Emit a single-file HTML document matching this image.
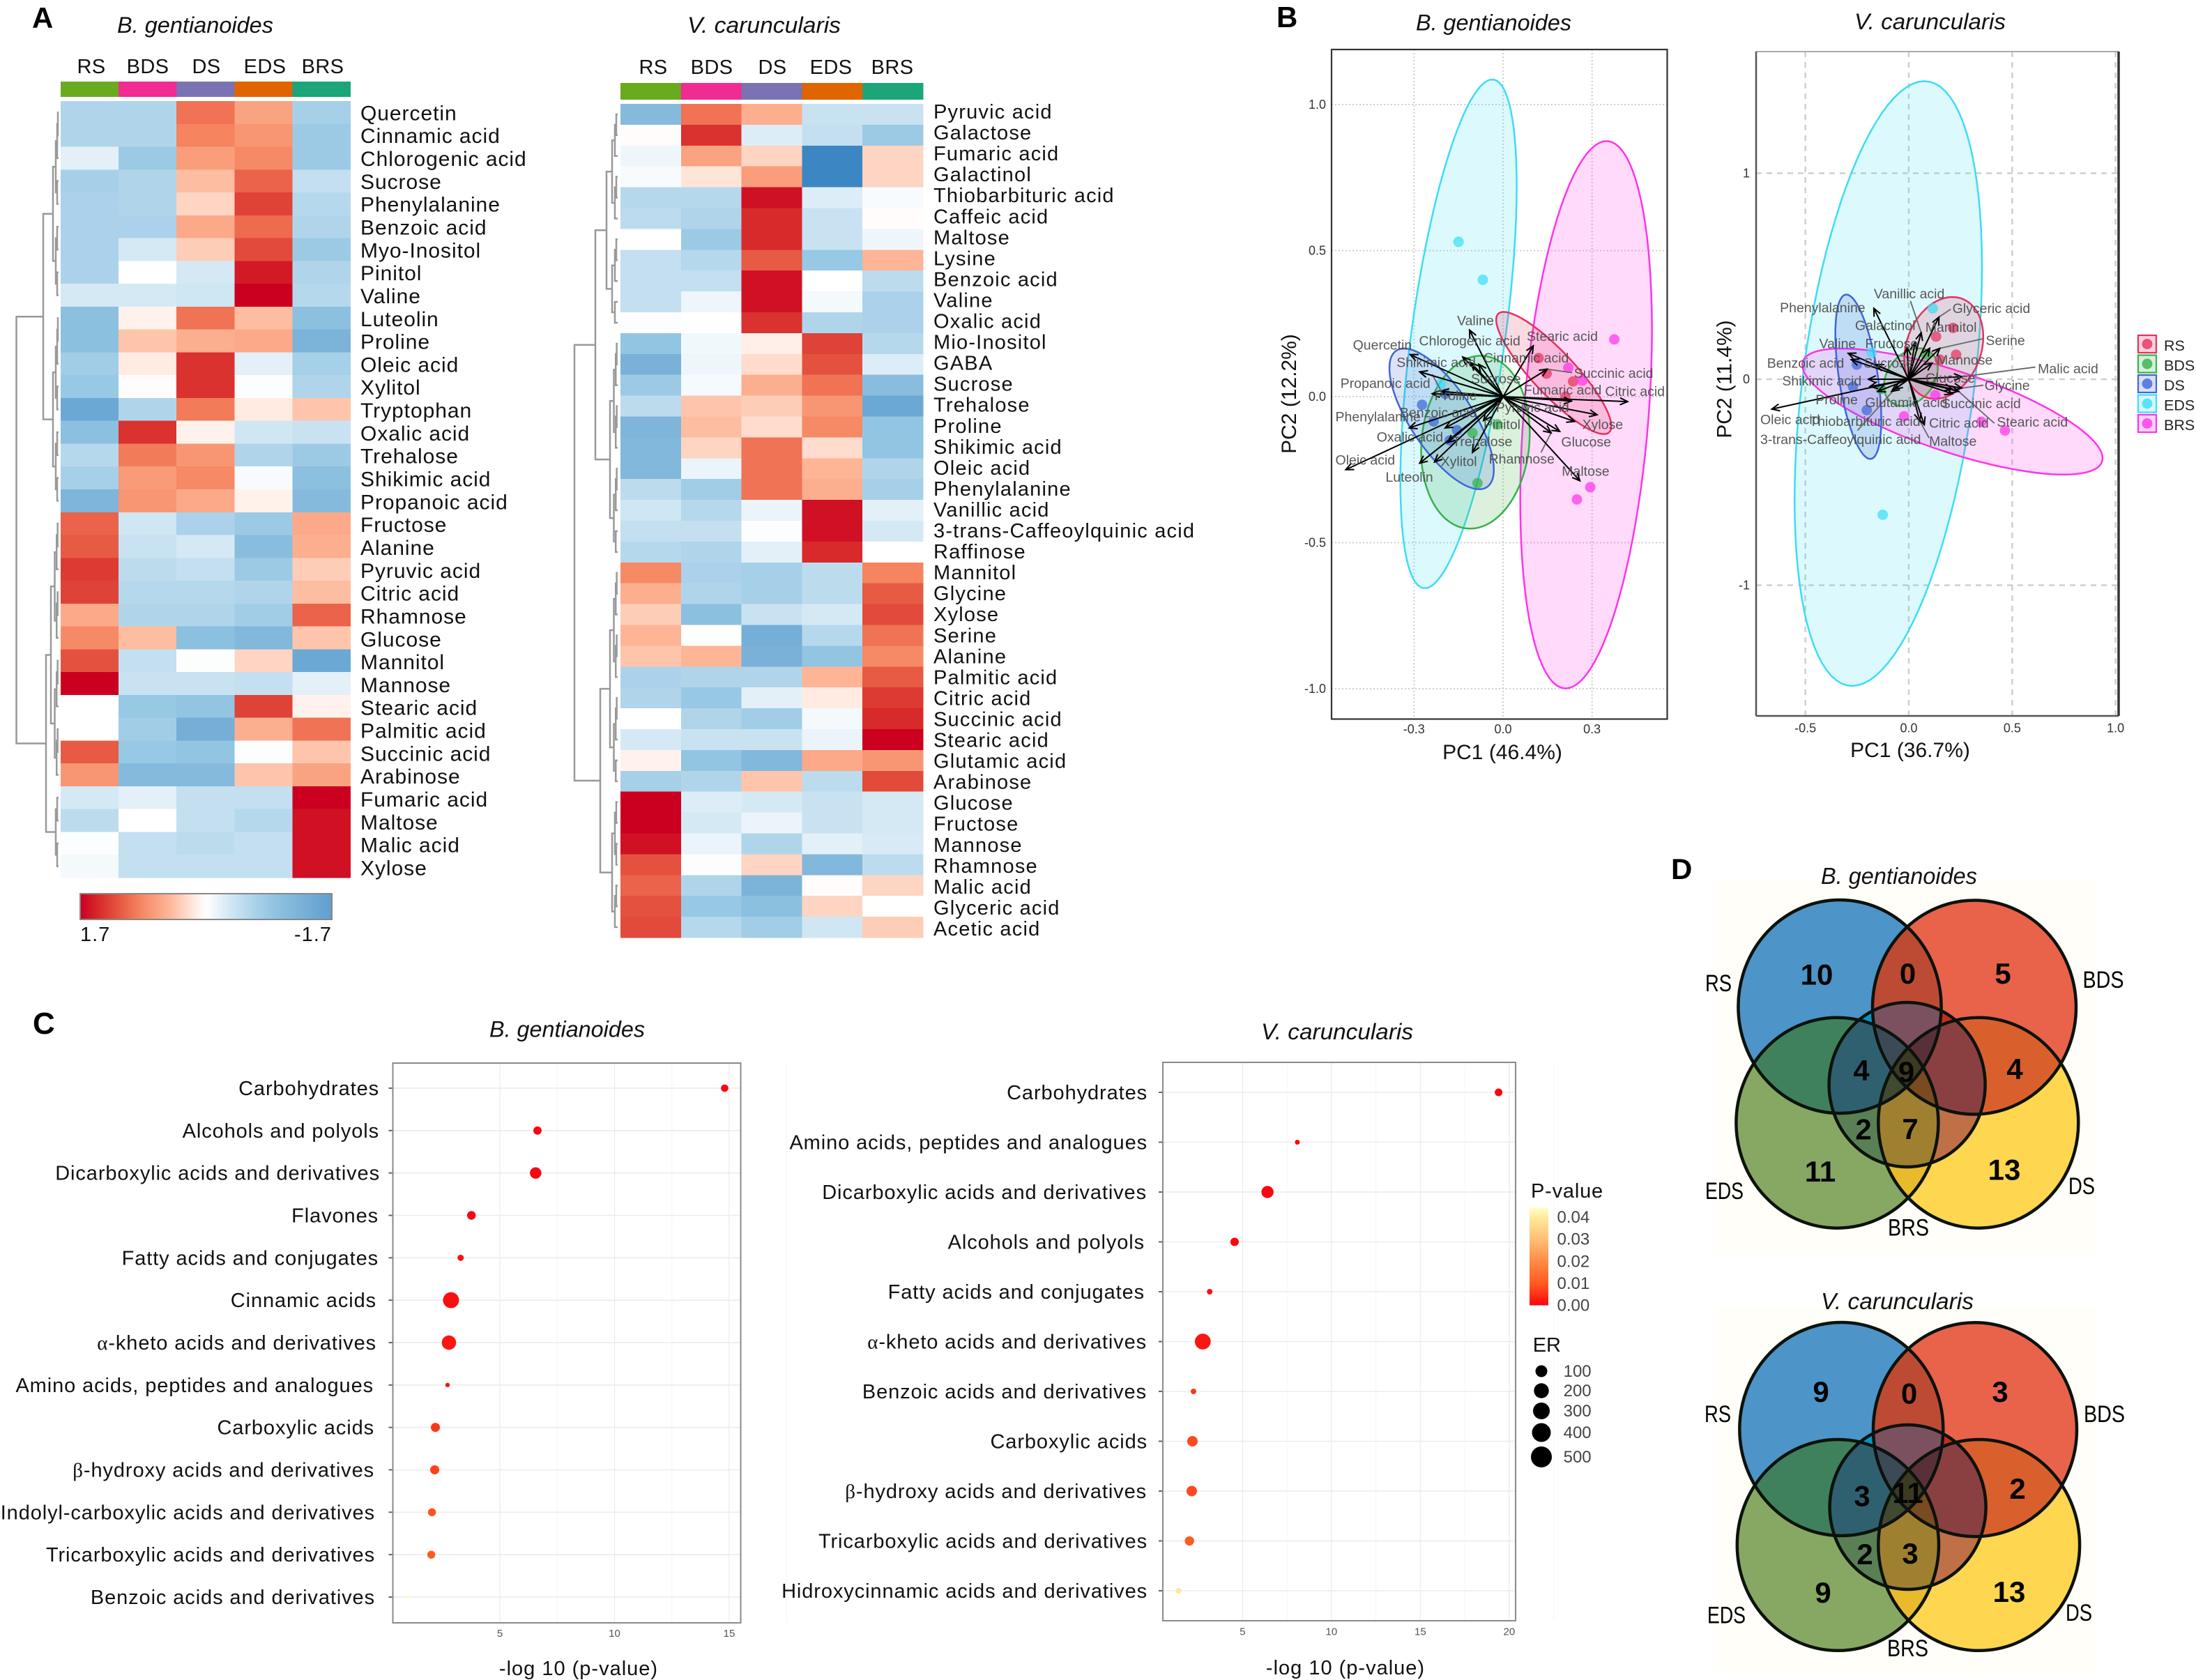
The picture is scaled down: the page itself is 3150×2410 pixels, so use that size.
<!DOCTYPE html>
<html lang="en">
<head>
<meta charset="utf-8">
<title>Metabolite heatmaps, PCA biplots, enrichment dot plots and Venn diagrams</title>
<style>
html,body{margin:0;padding:0;background:#fff;width:3150px;height:2410px;overflow:hidden}
svg{display:block;font-family:"Liberation Sans",sans-serif}
</style>
</head>
<body>
<svg id="figure" xmlns="http://www.w3.org/2000/svg" width="3150" height="2410" viewBox="0 0 3150 2410">
<defs>
<marker id="arrowHead" markerUnits="userSpaceOnUse" markerWidth="14" markerHeight="14" refX="12" refY="6" orient="auto"><path d="M1,1 L12,6 L1,11" fill="none" stroke="#000" stroke-width="2"/></marker>
<linearGradient id="heatLegendGrad" x1="0" x2="1" y1="0" y2="0"></linearGradient>
<linearGradient id="pLegendGrad" x1="0" x2="0" y1="1" y2="0"></linearGradient>
</defs>
<rect x="0" y="0" width="3150" height="2410" fill="#fff"/>
</svg>
<script>
/* ---------- PANEL A: heatmap data ---------- */
var heatColumns = ['RS','BDS','DS','EDS','BRS'];
var heatColumnColors = ['#6aaa1e','#f02b92','#7b72b4','#e06400','#1ca578'];
var heatLabelsA = ['Quercetin','Cinnamic acid','Chlorogenic acid','Sucrose','Phenylalanine','Benzoic acid','Myo-Inositol','Pinitol','Valine','Luteolin','Proline','Oleic acid','Xylitol','Tryptophan','Oxalic acid','Trehalose','Shikimic acid','Propanoic acid','Fructose','Alanine','Pyruvic acid','Citric acid','Rhamnose','Glucose','Mannitol','Mannose','Stearic acid','Palmitic acid','Succinic acid','Arabinose','Fumaric acid','Maltose','Malic acid','Xylose'];
var heatValuesA = [
[-.6,-.6,1.0,.65,-.7],[-.6,-.6,.9,.75,-.8],[-.2,-.8,.7,.85,-.8],[-.7,-.6,.45,1.1,-.45],[-.65,-.6,.3,1.3,-.55],[-.65,-.65,.6,1.05,-.6],[-.65,-.3,.35,1.25,-.8],[-.65,0,-.3,1.55,-.6],[-.3,-.3,-.35,1.7,-.55],
[-1.0,.1,1.0,.45,-1.0],[-1.0,.4,.55,.6,-1.25],[-.75,.15,1.4,-.2,-.7],[-.85,.02,1.4,-.03,-.6],[-1.5,-.6,.95,.15,.4],[-1.0,1.4,.1,-.35,-.4],[-.55,.95,.75,-.6,-.8],[-.7,.72,.85,-.05,-1.0],[-1.2,.75,.6,.1,-1.1],
[1.1,-.35,-.65,-.8,.6],[1.15,-.4,-.3,-1.05,.55],[1.35,-.5,-.45,-.8,.35],[1.3,-.55,-.55,-.6,.45],[.6,-.6,-.6,-.75,1.1],[.85,.45,-1.0,-1.15,.4],[1.2,-.45,-.02,.3,-1.5],[1.7,-.4,-.4,-.45,-.2],[0,-.85,-.9,1.3,.1],[0,-.75,-1.35,.55,1.0],[1.15,-.85,-.9,-.03,.4],[.75,-1.1,-1.1,.4,.65],
[-.3,-.2,-.45,-.45,1.7],[-.5,0,-.45,-.55,1.6],[-.03,-.45,-.5,-.45,1.6],[-.08,-.45,-.45,-.45,1.6]];
var heatLabelsV = ['Pyruvic acid','Galactose','Fumaric acid','Galactinol','Thiobarbituric acid','Caffeic acid','Maltose','Lysine','Benzoic acid','Valine','Oxalic acid','Mio-Inositol','GABA','Sucrose','Trehalose','Proline','Shikimic acid','Oleic acid','Phenylalanine','Vanillic acid','3-trans-Caffeoylquinic acid','Raffinose','Mannitol','Glycine','Xylose','Serine','Alanine','Palmitic acid','Citric acid','Succinic acid','Stearic acid','Glutamic acid','Arabinose','Glucose','Fructose','Mannose','Rhamnose','Malic acid','Glyceric acid','Acetic acid'];
var heatValuesV = [
[-1.1,1.0,.55,-.4,-.4],[.02,1.4,-.25,-.45,-.8],[-.12,.65,.3,-2.1,.3],[-.05,.2,.7,-2.1,.3],[-.55,-.55,1.6,-.25,-.06],[-.5,-.6,1.45,-.4,.02],[0,-.8,1.45,-.4,-.12],[-.45,-.55,1.15,-.85,.5],[-.45,-.45,1.6,0,-.5],[-.45,-.12,1.6,-.08,-.65],[-.03,0,1.4,-.6,-.65],
[-.9,-.1,.12,1.3,-.55],[-1.3,-.12,.25,1.2,-.25],[-.8,-.07,.55,1.0,-1.05],[-.5,.4,.35,.75,-1.5],[-1.2,.45,.25,.85,-.9],[-1.15,.3,1.0,.25,-.9],[-1.15,-.15,1.0,.5,-.6],[-.5,-.75,1.0,.55,-.7],[-.35,-.55,-.15,1.6,-.2],[-.45,-.45,-.03,1.6,-.3],[-.55,-.6,-.2,1.45,0],
[.85,-.65,-.7,-.5,.9],[.55,-.6,-.7,-.5,1.15],[.35,-1.0,-.4,-.3,1.25],[.5,0,-1.35,-.55,1.0],[.4,.5,-1.3,-.9,.85],[-.65,-.6,-.6,.5,1.15],[-.6,-.85,-.2,.15,1.35],[0,-.6,-.75,-.08,1.45],[-.3,-.4,-.4,-.15,1.7],[.1,-.9,-1.15,.6,.75],[-.7,-.6,.4,-.5,1.25],
[1.7,-.25,-.3,-.4,-.3],[1.7,-.3,-.15,-.4,-.3],[1.6,-.15,-.6,-.2,-.28],[1.2,-.03,.3,-1.15,-.5],[1.1,-.6,-1.25,.02,.3],[1.2,-.85,-1.0,.3,0],[1.25,-.55,-.75,-.35,.35]];
var heatLegendTicks = ['1.7','-1.7'];

/* ---------- PANEL B: PCA data (PC units) ---------- */
var pcaGroups = ['RS','BDS','DS','EDS','BRS'];
var pcaGroupColors = ['#e8305f','#35b34a','#3f66d8','#3ddcf5','#ff33ea'];
var pca1XTicks = [-0.3,0,0.3];
var pca1YTicks = [1,0.5,0,-0.5,-1];
var pca1EllipseOrder = ['BRS','EDS','BDS','DS','RS'];
var pca1EllipseCx = [.280,-.150,-.093,-.207,.171];
var pca1EllipseCy = [-.062,.215,-.156,-.076,.081];
var pca1EllipseAx = [.222,.196,.183,.176,.194];
var pca1EllipseBy = [.937,.871,.296,.241,.209];
var pca1EllipseRho = [.31,.58,.1,-.72,-.87];
var pca1PointGroup = ['EDS','EDS','EDS','DS','DS','DS','DS','DS','BDS','BDS','BDS','RS','RS','RS','RS','BRS','BRS','BRS','BRS','BRS'];
var pca1PointX = [-.15,-.068,-.21,-.273,-.234,-.195,-.155,-.18,-.103,-.019,-.086,.12,.147,.236,.21,.375,.22,.267,.294,.249];
var pca1PointY = [.53,.40,.044,-.028,-.085,.01,-.115,-.15,-.124,-.095,-.296,.132,.079,.052,0,.196,.099,.055,-.31,-.352];
var pca1Names = ['Valine','Quercetin','Chlorogenic acid','Cinnamic acid','Sucrose','Shikimic acid','Propanoic acid','Proline','Phenylalanine','Benzoic acid','Oxalic acid','Oleic acid','Luteolin','Xylitol','Trehalose','Pinitol','Stearic acid','Fumaric acid','Succinic acid','Citric acid','Xylose','Glucose','Rhamnose','Maltose','Pyruvic acid'];
var pca1LoadX = [-.113,-.313,-.136,-.108,-.082,-.281,-.239,-.208,-.316,-.195,-.187,-.53,-.281,-.231,-.103,-.066,.102,.231,.149,.42,.317,.191,.162,.259,.241];
var pca1LoadY = [.228,.144,.136,.116,.111,.085,.01,.018,-.107,-.107,-.157,-.25,-.228,-.224,-.191,-.082,.174,-.015,.094,-.017,-.062,-.119,-.124,-.288,-.085];
var pca1TextX = [-.155,-.506,-.283,-.066,-.108,-.359,-.548,-.231,-.565,-.348,-.426,-.565,-.396,-.21,-.171,-.066,.08,.07,.239,.344,.267,.196,-.048,.198,-.024];
var pca1TextY = [.245,.161,.176,.117,.045,.102,.03,-.012,-.085,-.07,-.154,-.233,-.291,-.238,-.169,-.111,.191,.007,.065,.002,-.111,-.171,-.229,-.271,-.052];
var pca1LeaderNames = ['Succinic acid','Rhamnose','Proline'];
var pca1LeaderX = [.233,.128,-.239];
var pca1LeaderY = [.082,-.191,.077];

var pca2XTicks = [-0.5,0,0.5,1];
var pca2YTicks = [1,0,-1];
var pca2EllipseOrder = ['EDS','BRS','BDS','DS','RS'];
var pca2EllipseCx = [-.099,.211,.01,-.244,.169];
var pca2EllipseCy = [-.021,-.157,.01,.012,.152];
var pca2EllipseAx = [.453,.726,.13,.111,.191];
var pca2EllipseBy = [1.468,.306,.14,.399,.247];
var pca2EllipseRho = [.385,-.74,.3,-.52,.22];
var pca2PointGroup = ['EDS','EDS','EDS','RS','RS','RS','RS','DS','DS','DS','BRS','BRS','BRS','BRS','BDS','BDS'];
var pca2PointX = [.116,-.126,-.18,.132,.214,.229,.15,-.251,-.203,-.27,.465,.351,-.023,.128,.083,-.135];
var pca2PointY = [.344,-.658,.13,.207,.249,.119,.095,.071,-.15,-.036,-.249,-.207,-.18,-.078,.119,-.048];
var pca2Names = ['Vanillic acid','Glyceric acid','Phenylalanine','Galactinol','Mannitol','Valine','Fructose','Serine','Benzoic acid','Sucrose','Mannose','Malic acid','Shikimic acid','Glucose','Glycine','Proline','Glutamic acid','Succinic acid','Oleic acid','Thiobarbituric acid','Citric acid','Stearic acid','3-trans-Caffeoylquinic acid','Maltose'];
var pca2LoadX = [.06,.146,-.169,.03,.101,-.293,-.008,.15,-.278,-.158,.113,.256,-.196,.211,.256,-.188,-.15,.211,-.662,-.083,.075,.241,-.068,.053];
var pca2LoadY = [.226,.302,.344,.178,.15,.126,.154,.15,.095,.071,.078,.012,0,-.048,-.043,-.036,-.059,-.071,-.145,-.059,-.221,-.059,-.048,-.202];
var pca2TextX = [-.169,.211,-.623,-.26,.08,-.433,-.211,.372,-.685,-.218,.135,.624,-.612,.08,.366,-.451,-.211,.158,-.718,-.481,.098,.426,-.718,.098];
var pca2TextY = [.392,.321,.325,.238,.23,.15,.15,.166,.055,.055,.071,.029,-.031,-.017,-.052,-.121,-.135,-.14,-.219,-.226,-.235,-.23,-.314,-.323];
var pca2LeaderNames = ['Malic acid','Serine','Glyceric acid','Stearic acid','Glycine','3-trans-Caffeoylquinic acid','Vanillic acid','Maltose'];
var pca2LeaderX = [.612,.361,.203,.414,.361,-.248,.008,.098];
var pca2LeaderY = [.059,.197,.34,-.214,-.029,-.249,.38,-.285];

/* ---------- PANEL C: enrichment data ---------- */
var dot1Classes = ['Carbohydrates','Alcohols and polyols','Dicarboxylic acids and derivatives','Flavones','Fatty acids and conjugates','Cinnamic acids','α-kheto acids and derivatives','Amino acids, peptides and analogues','Carboxylic acids','β-hydroxy acids and derivatives','Indolyl-carboxylic acids and derivatives','Tricarboxylic acids and derivatives','Benzoic acids and derivatives'];
var dot1LogP = [14.8,6.64,6.56,3.76,3.29,2.87,2.78,2.72,2.19,2.16,2.04,2.01,1.01];
var dot1ER = [42,53,95,58,27,260,183,4,64,64,49,49,1];
var dot1P = [0,0,0,0,.001,.001,.002,.002,.006,.007,.009,.01,.045];
var dot1XTicks = [5,10,15];
var dot2Classes = ['Carbohydrates','Amino acids, peptides and analogues','Dicarboxylic acids and derivatives','Alcohols and polyols','Fatty acids and conjugates','α-kheto acids and derivatives','Benzoic acids and derivatives','Carboxylic acids','β-hydroxy acids and derivatives','Tricarboxylic acids and derivatives','Hidroxycinnamic acids and derivatives'];
var dot2LogP = [19.4,8.08,6.4,4.55,3.15,2.76,2.24,2.18,2.14,2.01,1.4];
var dot2ER = [45,9,110,55,18,250,18,82,82,66,18];
var dot2P = [0,0,0,0,.001,.002,.006,.008,.008,.01,.04];
var dot2XTicks = [5,10,15,20];
var pLegendTicks = [0.04,0.03,0.02,0.01,0];
var erLegendValues = [100,200,300,400,500];

/* ---------- PANEL D: Venn counts ---------- */
var venn1Counts = ['10','0','5','4','9','4','2','7','11','13'];
var venn2Counts = ['9','0','3','3','11','2','2','3','9','13'];
var vennSets = ['RS','BDS','EDS','DS','BRS'];

/* ---------- helpers ---------- */
var NS = 'http://www.w3.org/2000/svg';
var root = document.getElementById('figure');

function mk(tag, parent, name) {
  var el = document.createElementNS(NS, tag);
  
  
  parent.appendChild(el);
  return el;
}
function set(el, attrs) {
  for (var k in attrs) { el.setAttribute(k, attrs[k]); }
  return el;
}
function group(parent, name) { return mk('g', parent, name); }
function slug(s) {
  return String(s).toLowerCase().replace(/α/g,'alpha').replace(/β/g,'beta').replace(/[^a-z0-9]+/g,'-').replace(/^-|-$/g,'');
}
function txt(parent, name, str, x, y, size, o) {
  o = o || {};
  var t = mk('text', parent, name);
  set(t, {x:x, y:y, 'font-size':size, fill:o.fill || '#111'});
  if (o.anchor) t.setAttribute('text-anchor', o.anchor);
  if (o.style) t.setAttribute('font-style', o.style);
  if (o.weight) t.setAttribute('font-weight', o.weight);
  if (o.ls) t.setAttribute('letter-spacing', o.ls);
  if (o.w) { t.setAttribute('textLength', o.w); t.setAttribute('lengthAdjust', 'spacingAndGlyphs'); }
  if (o.rotate) t.setAttribute('transform', 'rotate(' + o.rotate + ' ' + x + ' ' + y + ')');
  var c = str.charAt(0);
  if (c === 'α' || c === 'β') {
    var g = mk('tspan', t, 'greek-prefix');
    g.setAttribute('font-family', '"Liberation Serif",serif');
    g.textContent = c;
    t.appendChild(document.createTextNode(str.slice(1)));
  } else {
    t.textContent = str;
  }
  return t;
}
function line(parent, name, x1, y1, x2, y2, stroke, w, dash) {
  var l = mk('line', parent, name);
  set(l, {x1:x1, y1:y1, x2:x2, y2:y2, stroke:stroke, 'stroke-width':w});
  if (dash) l.setAttribute('stroke-dasharray', dash);
  return l;
}
function hex(c) { return [parseInt(c.substr(1,2),16), parseInt(c.substr(3,2),16), parseInt(c.substr(5,2),16)]; }
function ramp(stops, v) {
  if (v <= stops[0][0]) return stops[0][1];
  for (var i = 1; i < stops.length; i++) {
    if (v <= stops[i][0]) {
      var f = (v - stops[i-1][0]) / (stops[i][0] - stops[i-1][0]);
      var a = hex(stops[i-1][1]), b = hex(stops[i][1]);
      return 'rgb(' + Math.round(a[0]+(b[0]-a[0])*f) + ',' + Math.round(a[1]+(b[1]-a[1])*f) + ',' + Math.round(a[2]+(b[2]-a[2])*f) + ')';
    }
  }
  return stops[stops.length-1][1];
}
var heatStops = [[-2.2,'#3380c0'],[-1.7,'#5f9fd0'],[-1.2,'#7fb5da'],[-.9,'#92c5e2'],[-.6,'#b0d5eb'],[-.3,'#d5e9f5'],[0,'#ffffff'],[.2,'#ffe4d8'],[.5,'#fdb596'],[.9,'#f5845f'],[1.2,'#e4523f'],[1.45,'#d82a2a'],[1.7,'#cb0020']];
var pStops = [[0,'#fa0510'],[.01,'#ff5a20'],[.02,'#ff8a45'],[.03,'#ffbc72'],[.04,'#ffe89a'],[.045,'#ffffc8']];

/* ---------- Panel letters ---------- */
var lettersG = group(root, 'panel-letters');
txt(lettersG, 'panel-letter-a', 'A', 46, 40, 42, {weight:'bold', fill:'#000'});
txt(lettersG, 'panel-letter-b', 'B', 1831, 39, 42, {weight:'bold', fill:'#000'});
txt(lettersG, 'panel-letter-c', 'C', 47, 1483, 44, {weight:'bold', fill:'#000'});
txt(lettersG, 'panel-letter-d', 'D', 2397, 1261, 42, {weight:'bold', fill:'#000'});

/* ---------- Heatmaps ---------- */
function drawDendro(parent, node, rowY, leafX) {
  function subtree(a, b, x) {
    if (a === b) return {x:leafX, y:rowY(a)};
    var mid = Math.floor((a + b) / 2);
    var nx = x + (leafX - x) * 0.5;
    var c1 = subtree(a, mid, nx), c2 = subtree(mid + 1, b, nx);
    return join(x, c1, c2);
  }
  function join(x, c1, c2) {
    var p = mk('path', parent, 'dendrogram-branch');
    set(p, {d:'M'+c1.x+','+c1.y+' H'+x+' V'+c2.y+' H'+c2.x, fill:'none', stroke:'#999', 'stroke-width':2.5});
    return {x:x, y:(c1.y + c2.y) / 2};
  }
  function walk(n) {
    if (n.kids) { return join(n.x, walk(n.kids[0]), walk(n.kids[1])); }
    return subtree(n.a, n.b, n.x);
  }
  walk(node);
}
function drawHeatmap(prefix, labels, values, cfg) {
  var g = group(root, prefix + '-heatmap');
  txt(g, prefix + '-heatmap-title', cfg.title, cfg.titleX, 47, 32, {style:'italic', w:cfg.titleW});
  var colW = (cfg.x1 - cfg.x0) / heatColumns.length;
  var rowH = (cfg.y1 - cfg.y0) / labels.length;
  function colX(i) { return cfg.x0 + i * colW; }
  function rowY(i) { return cfg.y0 + i * rowH; }
  heatColumns.forEach(function (c, i) {
    txt(g, prefix + '-column-label-' + slug(c), c, cfg.headX[i], cfg.headY, 29, {anchor:'middle', ls:'0.4'});
    var s = mk('rect', g, prefix + '-group-strip-' + slug(c));
    set(s, {x:colX(i), y:cfg.stripY0, width:colW + .5, height:cfg.stripY1 - cfg.stripY0, fill:heatColumnColors[i]});
  });
  labels.forEach(function (name, r) {
    values[r].forEach(function (v, c) {
      var cell = mk('rect', g, prefix + '-cell-' + slug(name) + '-' + slug(heatColumns[c]));
      set(cell, {x:colX(c), y:rowY(r), width:colW + .5, height:rowH + .5, fill:ramp(heatStops, v), 'shape-rendering':'crispEdges'});
    });
    txt(g, prefix + '-row-label-' + slug(name), name, cfg.labelX, cfg.labelY0 + r * cfg.labelStep, cfg.labelSize, {ls:cfg.labelLs});
  });
  var d = group(g, prefix + '-dendrogram');
  drawDendro(d, cfg.tree, function (i) { return rowY(i) + rowH / 2; }, cfg.leafX);
}
drawHeatmap('gentianoides', heatLabelsA, heatValuesA, {
  title:'B. gentianoides', titleX:168, titleW:224, x0:87, x1:502.5, y0:145, y1:1259,
  stripY0:117, stripY1:139, headY:105, headX:[131,212,296,380,463],
  labelX:517, labelSize:30, labelLs:'0.95', labelY0:172.4, labelStep:32.82, leafX:84,
  tree:{x:23.5, kids:[{x:62, kids:[{x:76,a:0,b:8},{x:76,a:9,b:17}]},{x:66, kids:[{x:73,a:18,b:29},{x:80,a:30,b:33}]}]}
});
drawHeatmap('caruncularis', heatLabelsV, heatValuesV, {
  title:'V. caruncularis', titleX:986, titleW:220, x0:890, x1:1324, y0:149, y1:1345,
  stripY0:119, stripY1:143, headY:106, headX:[937,1021,1108,1192,1280],
  labelX:1339, labelSize:29, labelLs:'1.2', labelY0:170, labelStep:30.05, leafX:886,
  tree:{x:824, kids:[{x:854, kids:[{x:870,a:0,b:10},{x:875,a:11,b:21}]},{x:861, kids:[{x:875,a:22,b:32},{x:878,a:33,b:39}]}]}
});

/* heat legend */
(function () {
  var gr = document.getElementById('heatLegendGrad');
  for (var i = 0; i <= 20; i++) {
    var st = mk('stop', gr, 'heat-legend-stop');
    var v = 1.7 - 3.4 * i / 20;
    set(st, {offset:(i * 5) + '%', 'stop-color':ramp(heatStops, v)});
  }
  var g = group(root, 'heat-color-legend');
  var r = mk('rect', g, 'heat-legend-bar');
  set(r, {x:115, y:1282, width:361, height:37, fill:'url(#heatLegendGrad)', stroke:'#888', 'stroke-width':2});
  txt(g, 'heat-legend-max-label', heatLegendTicks[0], 115, 1350, 29, {ls:'1'});
  txt(g, 'heat-legend-min-label', heatLegendTicks[1], 476, 1350, 29, {anchor:'end', ls:'1'});
})();

/* ---------- PCA ---------- */
function drawPca(prefix, d) {
  var g = group(root, prefix + '-pca-biplot');
  function sx(v) { return d.x0 + v * d.kx; }
  function sy(v) { return d.y0 - v * d.ky; }
  txt(g, prefix + '-pca-title', d.title, d.titleX, d.titleY, 32, {style:'italic', w:d.titleW});
  var bg = mk('rect', g, prefix + '-pca-plot-area');
  set(bg, {x:d.left, y:d.top, width:d.right - d.left, height:d.bottom - d.top, fill:'#fff'});
  d.xTicks.forEach(function (t) {
    line(g, prefix + '-pca-gridline-x', sx(t), d.top, sx(t), d.bottom, '#cfcfcf', d.gridW, d.dash);
    txt(g, prefix + '-pca-x-tick', t.toFixed(1), sx(t), d.xTickY, 18, {anchor:'middle', fill:'#333'});
  });
  d.yTicks.forEach(function (t) {
    line(g, prefix + '-pca-gridline-y', d.left, sy(t), d.right, sy(t), '#cfcfcf', d.gridW, d.dash);
    txt(g, prefix + '-pca-y-tick', d.yFmt(t), d.yTickX, sy(t) + 6, 18, {anchor:'end', fill:'#333'});
  });
  d.ellOrder.forEach(function (name, i) {
    var pts = [];
    var rho = d.rho[i], q = Math.sqrt(1 - rho * rho);
    for (var k = 0; k < 96; k++) {
      var a = k / 96 * 2 * Math.PI;
      var ex = d.cx[i] + d.ax[i] * Math.cos(a);
      var ey = d.cy[i] + d.by[i] * (rho * Math.cos(a) + q * Math.sin(a));
      pts.push(sx(ex).toFixed(1) + ',' + sy(ey).toFixed(1));
    }
    var col = pcaGroupColors[pcaGroups.indexOf(name)];
    var p = mk('polygon', g, prefix + '-ellipse-' + slug(name));
    set(p, {points:pts.join(' '), fill:col, 'fill-opacity':.18, stroke:col, 'stroke-width':2.5});
  });
  d.px.forEach(function (v, i) {
    var c = mk('circle', g, prefix + '-point-' + slug(d.pg[i]));
    set(c, {cx:sx(v), cy:sy(d.py[i]), r:7.5, fill:pcaGroupColors[pcaGroups.indexOf(d.pg[i])], 'fill-opacity':.72});
  });
  d.leadN.forEach(function (n, i) {
    var k = d.names.indexOf(n);
    line(g, prefix + '-leader-' + slug(n), sx(d.lx[k]), sy(d.ly[k]), sx(d.leadX[i]), sy(d.leadY[i]), '#666', 1.8);
  });
  d.names.forEach(function (n, i) {
    var a = line(g, prefix + '-loading-arrow-' + slug(n), sx(0), sy(0), sx(d.lx[i]), sy(d.ly[i]), '#000', 2);
    a.setAttribute('marker-end', 'url(#arrowHead)');
  });
  d.names.forEach(function (n, i) {
    var t = txt(g, prefix + '-loading-label-' + slug(n), n, sx(d.tx[i]), sy(d.ty[i]), 19.5, {fill:'#4a4a4a'});
    t.setAttribute('fill-opacity', '.92');
  });
  d.border(g, prefix);
  txt(g, prefix + '-pca-x-title', d.xTitle, d.xTitleX, d.xTitleY, 30, {anchor:'middle'});
  txt(g, prefix + '-pca-y-title', d.yTitle, d.yTitleX, d.yTitleY, 30, {anchor:'middle', rotate:-90});
}
drawPca('gentianoides', {
  title:'B. gentianoides', titleX:2031, titleY:43.5, titleW:223,
  left:1910, right:2391.5, top:71, bottom:1031.5, x0:2156, y0:569, kx:425.6, ky:419,
  gridW:2, dash:'2 3', xTicks:pca1XTicks, yTicks:pca1YTicks, xTickY:1052, yTickX:1902,
  yFmt:function (t) { return t.toFixed(1); },
  ellOrder:pca1EllipseOrder, cx:pca1EllipseCx, cy:pca1EllipseCy, ax:pca1EllipseAx, by:pca1EllipseBy, rho:pca1EllipseRho,
  px:pca1PointX, py:pca1PointY, pg:pca1PointGroup, names:pca1Names, lx:pca1LoadX, ly:pca1LoadY, tx:pca1TextX, ty:pca1TextY,
  leadN:pca1LeaderNames, leadX:pca1LeaderX, leadY:pca1LeaderY,
  border:function (g, prefix) {
    var b = mk('rect', g, prefix + '-pca-frame');
    set(b, {x:1910, y:71, width:481.5, height:960.5, fill:'none', stroke:'#333', 'stroke-width':2.2});
  },
  xTitle:'PC1 (46.4%)', xTitleX:2155, xTitleY:1089, yTitle:'PC2 (12.2%)', yTitleX:1859, yTitleY:565
});
drawPca('caruncularis', {
  title:'V. caruncularis', titleX:2660, titleY:42, titleW:217,
  left:2519, right:3039, top:74, bottom:1027, x0:2738, y0:544, kx:296.7, ky:295.5,
  gridW:2.5, dash:'8 7', xTicks:pca2XTicks, yTicks:pca2YTicks, xTickY:1050.5, yTickX:2510,
  yFmt:function (t) { return String(t); },
  ellOrder:pca2EllipseOrder, cx:pca2EllipseCx, cy:pca2EllipseCy, ax:pca2EllipseAx, by:pca2EllipseBy, rho:pca2EllipseRho,
  px:pca2PointX, py:pca2PointY, pg:pca2PointGroup, names:pca2Names, lx:pca2LoadX, ly:pca2LoadY, tx:pca2TextX, ty:pca2TextY,
  leadN:pca2LeaderNames, leadX:pca2LeaderX, leadY:pca2LeaderY,
  border:function (g, prefix) {
    line(g, prefix + '-pca-frame-top', 2519, 74, 3039, 74, '#aaa', 2);
    line(g, prefix + '-pca-frame-left', 2519, 74, 2519, 1027, '#555', 2.5);
    line(g, prefix + '-pca-frame-bottom', 2519, 1027, 3039, 1027, '#555', 2.5);
    line(g, prefix + '-pca-frame-right', 3039, 74, 3039, 1027, '#333', 3.5);
  },
  xTitle:'PC1 (36.7%)', xTitleX:2740, xTitleY:1086, yTitle:'PC2 (11.4%)', yTitleX:2483.5, yTitleY:544
});
/* PCA legend */
(function () {
  var g = group(root, 'pca-legend');
  var ys = 481;
  pcaGroups.forEach(function (n, i) {
    var y = ys + i * 28.5;
    var b = mk('rect', g, 'legend-key-' + slug(n));
    set(b, {x:3067, y:y, width:26, height:25, fill:pcaGroupColors[i], 'fill-opacity':.2, stroke:pcaGroupColors[i], 'stroke-width':2.2});
    var c = mk('circle', g, 'legend-dot-' + slug(n));
    set(c, {cx:3080, cy:y + 12.5, r:7.5, fill:pcaGroupColors[i], 'fill-opacity':.8});
    txt(g, 'legend-label-' + slug(n), n, 3104, y + 22, 21.5, {fill:'#222'});
  });
})();

/* ---------- Dot plots ---------- */
var erRadiusStops = [[0,3],[100,8.5],[200,10.7],[300,12],[400,13.5],[500,15]];
function erRadius(er) {
  for (var i = 1; i < erRadiusStops.length; i++) {
    if (er <= erRadiusStops[i][0]) {
      var a = erRadiusStops[i-1], b = erRadiusStops[i];
      return a[1] + (er - a[0]) / (b[0] - a[0]) * (b[1] - a[1]);
    }
  }
  return erRadiusStops[erRadiusStops.length-1][1];
}
function drawDots(prefix, d) {
  var g = group(root, prefix + '-enrichment-plot');
  function sx(v) { return d.xRef + (v - 5) * d.kx; }
  function sy(i) { return d.yFirst + i * (d.yLast - d.yFirst) / (d.classes.length - 1); }
  txt(g, prefix + '-enrichment-title', d.title, d.titleX, d.titleY, 32, {style:'italic', w:d.titleW});
  d.ticks.forEach(function (t) {
    line(g, prefix + '-enrichment-gridline-major', sx(t), d.top, sx(t), d.bottom, '#ececec', 1.3);
    line(g, prefix + '-enrichment-gridline-minor', sx(t + 2.5), d.top, sx(t + 2.5), d.bottom, '#f5f5f5', 1);
    txt(g, prefix + '-enrichment-x-tick', String(t), sx(t), d.tickY, 15, {anchor:'middle', fill:'#555'});
  });
  d.classes.forEach(function (n, i) {
    line(g, prefix + '-enrichment-gridline-row', d.left, sy(i), d.right, sy(i), '#ececec', 1.6);
    line(g, prefix + '-enrichment-row-tick', d.left - 6, sy(i), d.left, sy(i), '#666', 2);
    var off = d.labelRight[i];
    txt(g, prefix + '-enrichment-label-' + slug(n), n, off, sy(i) + 10, 29, {anchor:'end', ls:'0.9'});
  });
  var frame = mk('rect', g, prefix + '-enrichment-frame');
  set(frame, {x:d.left, y:d.top, width:d.right - d.left, height:d.bottom - d.top, fill:'none', stroke:'#8a8a8a', 'stroke-width':2});
  d.classes.forEach(function (n, i) {
    var c = mk('circle', g, prefix + '-enrichment-dot-' + slug(n));
    set(c, {cx:sx(d.logp[i]), cy:sy(i), r:erRadius(d.er[i]), fill:ramp(pStops, d.p[i])});
  });
  txt(g, prefix + '-enrichment-x-title', '-log 10 (p-value)', d.xTitleX, d.xTitleY, 29, {anchor:'middle', ls:'1'});
}
drawDots('gentianoides', {
  title:'B. gentianoides', titleX:702, titleY:1487.5, titleW:223,
  left:563.5, right:1062.5, top:1525, bottom:2328, xRef:717, kx:32.9, yFirst:1561, yLast:2291,
  classes:dot1Classes, logp:dot1LogP, er:dot1ER, p:dot1P, ticks:dot1XTicks, tickY:2348,
  labelRight:[544,544,545,543,543,540,540,536,537,537,538,538,538], xTitleX:830, xTitleY:2403
});
drawDots('caruncularis', {
  title:'V. caruncularis', titleX:1809, titleY:1491, titleW:218,
  left:1668, right:2174, top:1524, bottom:2325, xRef:1782.4, kx:25.5, yFirst:1567, yLast:2282,
  classes:dot2Classes, logp:dot2LogP, er:dot2ER, p:dot2P, ticks:dot2XTicks, tickY:2345.5,
  labelRight:[1646,1646,1645,1642,1642,1645,1645,1646,1645,1646,1646], xTitleX:1930, xTitleY:2402
});
/* P-value + ER legends */
(function () {
  var gr = document.getElementById('pLegendGrad');
  for (var i = 0; i <= 9; i++) {
    var st = mk('stop', gr, 'p-legend-stop');
    set(st, {offset:(i * 100 / 9) + '%', 'stop-color':ramp(pStops, .045 * i / 9)});
  }
  var g = group(root, 'p-value-legend');
  txt(g, 'p-value-legend-title', 'P-value', 2196, 1718, 29, {ls:'.8'});
  var bar = mk('rect', g, 'p-value-legend-bar');
  set(bar, {x:2194, y:1732.5, width:27, height:140, fill:'url(#pLegendGrad)'});
  pLegendTicks.forEach(function (t) {
    var y = 1872.6 - t / 0.04 * 126.6;
    txt(g, 'p-value-legend-tick', t.toFixed(2), 2233.5, y + 8, 24, {fill:'#444'});
  });
  var e = group(root, 'er-legend');
  txt(e, 'er-legend-title', 'ER', 2198.7, 1939, 29);
  var legendGaps = [0,8.8,6.3,5.5,6.5];
  var y = 1967;
  erLegendValues.forEach(function (v, i) {
    var r = erRadius(v);
    if (i > 0) { y += erRadius(erLegendValues[i-1]) + r + legendGaps[i]; }
    var c = mk('circle', e, 'er-legend-dot-' + v);
    set(c, {cx:2211, cy:y, r:r, fill:'#000'});
    txt(e, 'er-legend-label-' + v, String(v), 2242.6, y + 8, 24, {fill:'#444'});
  });
})();

/* ---------- Venn diagrams ---------- */
function drawVenn(prefix, d) {
  var g = group(root, prefix + '-venn');
  var bg = mk('rect', g, prefix + '-venn-background');
  set(bg, {x:2459, y:d.bgY, width:550, height:d.bgH, fill:'#fffef8'});
  txt(g, prefix + '-venn-title', d.title, 2612, d.titleY, 33, {style:'italic', w:d.titleW});
  var defs = root.querySelector('defs');
  vennSets.forEach(function (s, i) {
    var cp = mk('clipPath', defs, prefix + '-clip-' + slug(s));
    cp.setAttribute('id', prefix + 'Clip' + s);
    var ce = mk('ellipse', cp, prefix + '-clip-shape-' + slug(s));
    set(ce, {cx:d.ell[i][0], cy:d.ell[i][1], rx:d.ell[i][2], ry:d.ell[i][3]});
  });
  function region(sets, color) {
    var parent = g;
    sets.slice(1).forEach(function (s) {
      var w = group(parent, prefix + '-region-clip');
      w.setAttribute('clip-path', 'url(#' + prefix + 'Clip' + s + ')');
      parent = w;
    });
    var e = d.ell[vennSets.indexOf(sets[0])];
    var el = mk('ellipse', parent, prefix + '-region-' + slug(sets.join('-')));
    set(el, {cx:e[0], cy:e[1], rx:e[2], ry:e[3], fill:color});
  }
  region(['RS'], '#4d94c8');
  region(['BDS'], '#e8634a');
  region(['EDS'], '#87a862');
  region(['DS'], '#fed650');
  region(['RS','BDS'], '#bd4b33');
  region(['RS','EDS'], '#3f815c');
  region(['BDS','DS'], '#d9602c');
  region(['EDS','DS'], '#e8ba2c');
  region(['RS','BRS'], '#0a93c4');
  region(['BDS','BRS'], '#c0301c');
  region(['EDS','BRS'], '#5a7f55');
  region(['DS','BRS'], '#bf7046');
  region(['RS','BDS','BRS'], '#7b5160');
  region(['RS','EDS','BRS'], '#2f6070');
  region(['BDS','DS','BRS'], '#8a4040');
  region(['EDS','DS','BRS'], '#9f8030');
  region(['RS','BDS','EDS','BRS'], '#3c4a55');
  region(['RS','BDS','DS','BRS'], '#5a3038');
  region(['RS','EDS','DS','BRS'], '#3f4a30');
  region(['BDS','EDS','DS','BRS'], '#7a4a20');
  region(['RS','BDS','EDS','DS','BRS'], '#3d3a22');
  vennSets.forEach(function (s, i) {
    var o = mk('ellipse', g, prefix + '-outline-' + slug(s));
    set(o, {cx:d.ell[i][0], cy:d.ell[i][1], rx:d.ell[i][2], ry:d.ell[i][3], fill:'none', stroke:'#0c120c', 'stroke-width':4.5});
  });
  d.counts.forEach(function (c, i) {
    var pos = d.countPos[i];
    txt(g, prefix + '-count', c, pos[0], pos[1] + 15, 42, {anchor:'middle', weight:'bold', fill:'#050505'});
  });
  d.labels.forEach(function (l) {
    txt(g, prefix + '-set-label-' + slug(l[0]), l[0], l[1], l[2], 34, {w:l[3], fill:'#000'});
  });
}
drawVenn('gentianoides', {
  title:'B. gentianoides', titleY:1268, titleW:224, bgY:1264, bgH:536, counts:venn1Counts,
  ell:[[2639,1444,145.6,153],[2832,1445,146,153.5],[2635.4,1610.7,145,151],[2837.8,1610.7,143.5,151],[2735.6,1556,112,118]],
  countPos:[[2606,1397.5],[2736.6,1396],[2873,1396],[2670,1535],[2734.6,1537],[2890,1533],[2673,1619.5],[2740,1619],[2611,1680],[2875,1677.6]],
  labels:[['RS',2446,1422,38],['BDS',2987.5,1417,59],['EDS',2446,1720,55],['DS',2967,1713,38],['BRS',2708,1772.6,59]]
});
drawVenn('caruncularis', {
  title:'V. caruncularis', titleY:1878, titleW:219, bgY:1875, bgH:525, counts:venn2Counts,
  ell:[[2641.3,2050,146,153],[2833,2050.7,146,153.5],[2636.4,2216.4,144.6,151.4],[2838.7,2216.4,144.4,151.4],[2736.6,2162,112,118]],
  countPos:[[2612,1996],[2738.5,1998.7],[2869,1996],[2671,2145.6],[2736.6,2141],[2894,2135],[2675,2229],[2740,2228],[2615,2284],[2882,2283]],
  labels:[['RS',2445,2040,38],['BDS',2989,2040,59],['EDS',2449,2328.6,55],['DS',2963,2325,38],['BRS',2707,2376,59]]
});
</script>
</body>
</html>
